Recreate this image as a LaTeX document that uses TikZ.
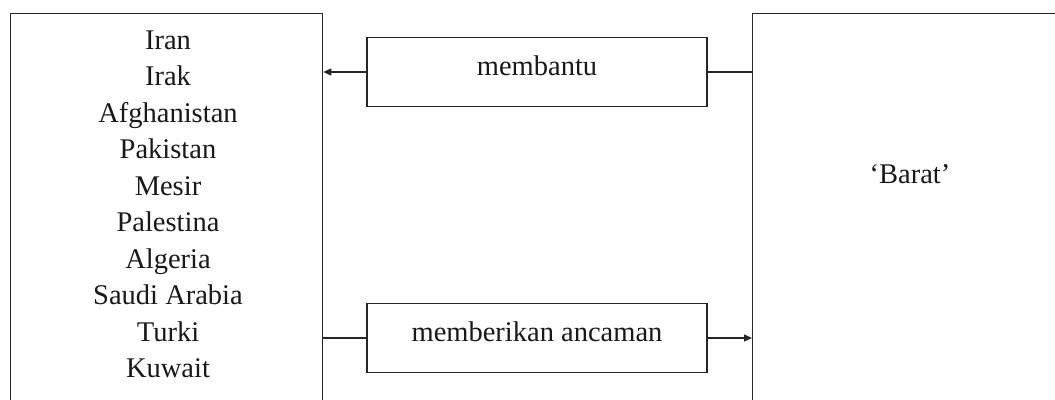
\documentclass[tikz,border=0pt]{standalone}
\usepackage{fontspec}
\setmainfont{Liberation Serif}
\usetikzlibrary{arrows.meta}
\begin{document}
\begin{tikzpicture}[x=1pt,y=-1pt,
  frame/.style={draw=black!85, line width=1.25pt},
  panel/.style={frame, rectangle, inner sep=0pt, minimum width=312pt,
                minimum height=420pt, anchor=north west},
  labelbox/.style={frame, rectangle, inner sep=0pt, minimum width=340pt,
                minimum height=69pt, text height=13pt, text depth=7pt,
                font=\fontsize{28.5}{34}\selectfont, text=black!90},
  word/.style={inner sep=0pt, anchor=base,
                font=\fontsize{28.5}{34}\selectfont, text=black!90},
  link/.style={draw=black!85, line width=1.25pt},
  tip/.style={-{Triangle[length=8pt,width=7pt]}}]
\useasboundingbox (0,0) rectangle (1055,399);
\clip (0,0) rectangle (1055,399);

% the two groups
\node[panel] (negara) at (10,13) {};
\node[panel] (barat) at (752,13) {};

% countries listed in the left group
\foreach \name [count=\i from 0] in {Iran,Irak,Afghanistan,Pakistan,Mesir,
    Palestina,Algeria,Saudi Arabia,Turki,Kuwait}
  \node[word] (c\i) at (168,{49+36.5*\i}) {\name};

\node[word] (baratlabel) at (910,183) {‘Barat’};

% relation boxes
\node[labelbox] (bantu) at (537,72) {membantu};
\node[labelbox] (ancam) at (537,338) {memberikan ancaman};

% connectors
\draw[link,tip] (bantu.west) -- (negara.east |- bantu.west);
\draw[link] (barat.west |- bantu.east) -- (bantu.east);
\draw[link] (negara.east |- ancam.west) -- (ancam.west);
\draw[link,tip] (ancam.east) -- (barat.west |- ancam.east);
\end{tikzpicture}
\end{document}
